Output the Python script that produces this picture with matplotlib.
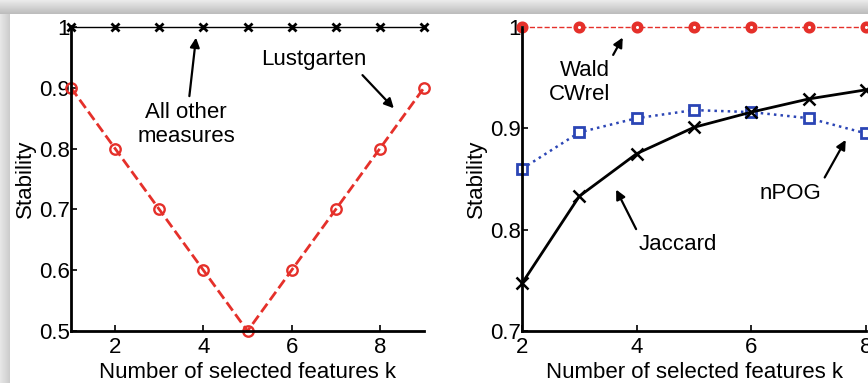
import numpy as np
import matplotlib
matplotlib.use("Agg")
import matplotlib.pyplot as plt

plt.rcParams['font.family'] = ['Liberation Sans', 'DejaVu Sans']

# left panel data
k_left = [1, 2, 3, 4, 5, 6, 7, 8, 9]
all_other = [1, 1, 1, 1, 1, 1, 1, 1, 1]
lustgarten = [0.9, 0.8, 0.7, 0.6, 0.5, 0.6, 0.7, 0.8, 0.9]

# right panel data
k_right = [2, 3, 4, 5, 6, 7, 8]
wald_cwrel = [1, 1, 1, 1, 1, 1, 1]
npog = [0.860, 0.896, 0.910, 0.918, 0.916, 0.910, 0.895]
jaccard = [0.747, 0.833, 0.875, 0.901, 0.916, 0.929, 0.938]

left_xticks = [2, 4, 6, 8]
left_yticks = [0.5, 0.6, 0.7, 0.8, 0.9, 1]
left_ylabels = ['0.5', '0.6', '0.7', '0.8', '0.9', '1']
right_xticks = [2, 4, 6, 8]
right_yticks = [0.7, 0.8, 0.9, 1]
right_ylabels = ['0.7', '0.8', '0.9', '1']

red = '#e5302a'
blue = '#2b45b5'
fs = 16

fig = plt.figure(figsize=(8.68, 3.83), dpi=100)

# screenshot frame: grey band on top, shadow on the left
band = fig.add_axes([0, 1 - 14 / 383, 1, 14 / 383])
band.imshow(np.linspace(0.92, 0.74, 20).reshape(-1, 1), cmap='gray', vmin=0, vmax=1,
            aspect='auto', extent=[0, 1, 0, 1])
band.axis('off')
side = fig.add_axes([0, 0, 10 / 868, 1 - 14 / 383])
side.imshow(np.linspace(0.9, 0.8, 10).reshape(1, -1), cmap='gray', vmin=0, vmax=1,
            aspect='auto', extent=[0, 1, 0, 1])
side.axis('off')


def style(ax):
    for s in ['top', 'right']:
        ax.spines[s].set_visible(False)
    for s in ['left', 'bottom']:
        ax.spines[s].set_linewidth(2)
    ax.tick_params(direction='in', length=4, width=1.2, labelsize=fs, pad=1)
    ax.tick_params(axis='x', pad=4)
    ax.set_xlabel('Number of selected features k', fontsize=fs, labelpad=3)
    ax.set_ylabel('Stability', fontsize=fs, labelpad=2)


arrow = dict(arrowstyle='-|>', color='k', lw=1.6, mutation_scale=14)

# left panel
ax1 = fig.add_axes([71 / 868, 1 - 331 / 383, 353 / 868, 304 / 383])
ax1.plot(k_left, all_other, color='k', lw=1, marker='x', ms=6, mew=2, clip_on=False)
ax1.plot(k_left, lustgarten, color=red, lw=2, ls='--', marker='o', ms=7.5,
         mfc='none', mec=red, mew=1.7, clip_on=False)
ax1.set_xlim(1, 9)
ax1.set_ylim(0.5, 1)
ax1.set_xticks(left_xticks)
ax1.set_yticks(left_yticks)
ax1.set_yticklabels(left_ylabels)
style(ax1)
ax1.annotate('All other\nmeasures', xy=(3.84, 0.987), xytext=(3.61, 0.84),
             ha='center', va='center', fontsize=fs, arrowprops=arrow)
ax1.annotate('Lustgarten', xy=(8.36, 0.863), xytext=(6.5, 0.946),
             ha='center', va='center', fontsize=fs,
             arrowprops=dict(arrow, relpos=(0.92, 0.0)))

# right panel
ax2 = fig.add_axes([522 / 868, 1 - 331 / 383, 344 / 868, 304 / 383])
ax2.plot(k_right, wald_cwrel, color=red, lw=1, ls='--', marker='o', ms=5.5,
         mfc='white', mec=red, mew=3.2, clip_on=False)
ax2.plot(k_right, npog, color=blue, lw=1.8, ls=':', marker='s', ms=6.5,
         mfc='white', mec=blue, mew=2, clip_on=False)
ax2.plot(k_right, jaccard, color='k', lw=2, marker='x', ms=8, mew=1.8, clip_on=False)
ax2.set_xlim(2, 8)
ax2.set_ylim(0.7, 1)
ax2.set_xticks(right_xticks)
ax2.set_yticks(right_yticks)
ax2.set_yticklabels(right_ylabels)
style(ax2)
ax2.annotate('Wald\nCWrel', xy=(3.78, 0.992), xytext=(3.54, 0.945),
             ha='right', va='center', multialignment='right', fontsize=fs,
             arrowprops=dict(arrow, relpos=(1.0, 1.0)))
ax2.annotate('Jaccard', xy=(3.62, 0.842), xytext=(4.72, 0.785),
             ha='center', va='center', fontsize=fs,
             arrowprops=dict(arrow, relpos=(0.0, 1.0)))
ax2.annotate('nPOG', xy=(7.67, 0.891), xytext=(6.69, 0.836),
             ha='center', va='center', fontsize=fs,
             arrowprops=dict(arrow, relpos=(1.0, 1.0)))

fig.savefig('out.png', dpi=100)
